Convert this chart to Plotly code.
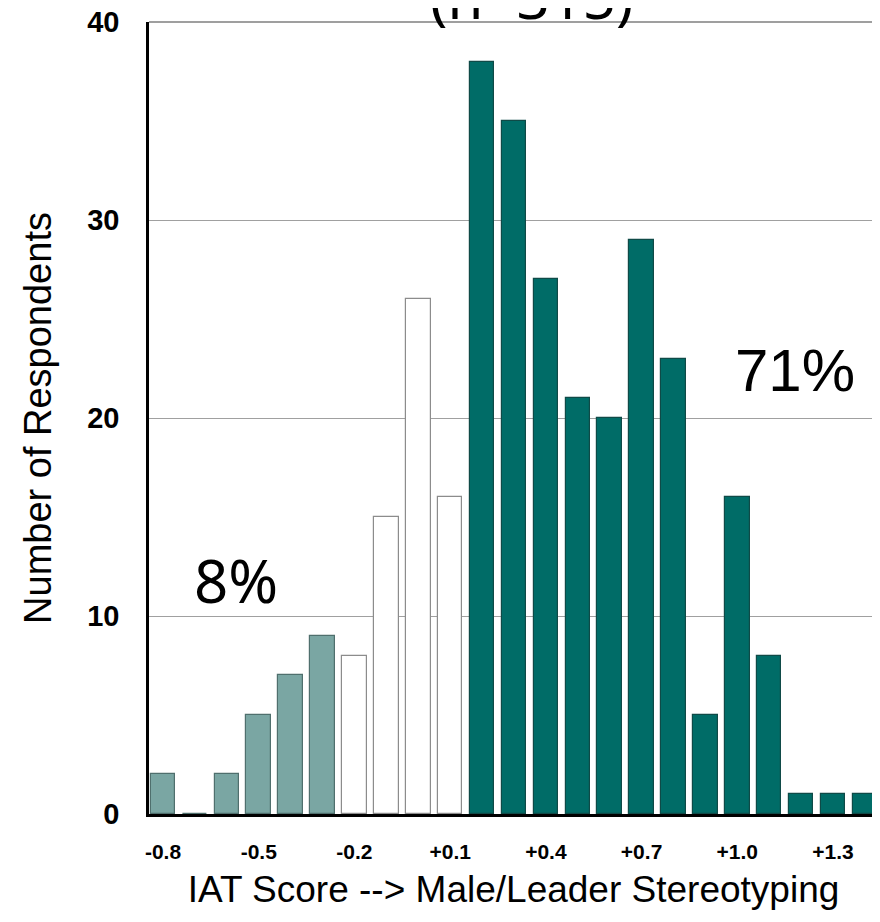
import plotly.graph_objects as go

# ---- data ----
iat_scores = [-0.8, -0.7, -0.6, -0.5, -0.4, -0.3, -0.2, -0.1, 0.0, 0.1, 0.2, 0.3,
              0.4, 0.5, 0.6, 0.7, 0.8, 0.9, 1.0, 1.1, 1.2, 1.3, 1.4]
respondents = [2, 0, 2, 5, 7, 9, 8, 15, 26, 16, 38, 35,
               27, 21, 20, 29, 23, 5, 16, 8, 1, 1, 1]
groups = ["female"] * 6 + ["neutral"] * 4 + ["male"] * 13
tick_values = [-0.8, -0.5, -0.2, 0.1, 0.4, 0.7, 1.0, 1.3]
tick_labels = ["-0.8", "-0.5", "-0.2", "+0.1", "+0.4", "+0.7", "+1.0", "+1.3"]
y_ticks = [0, 10, 20, 30, 40]

fill = {"female": "#7AA6A3", "neutral": "#FFFFFF", "male": "#006C67"}
edge = {"female": "#4F6F6D", "neutral": "#8C8C8C", "male": "#0F4A47"}

fig = go.Figure(go.Bar(
    x=iat_scores, y=respondents, width=0.077,
    marker=dict(color=[fill[g] for g in groups],
                line=dict(color=[edge[g] for g in groups], width=1.2)),
    showlegend=False,
))

# page has an 8px body margin; figure coords = page coords - 8
W, H = 872, 914
L, R, T, B = 141, 870, 14, 806
fig.update_layout(
    width=W, height=H,
    margin=dict(l=L, r=W - R, t=T, b=H - B),
    plot_bgcolor="white", paper_bgcolor="white",
    font=dict(family="Liberation Sans, Arial, sans-serif", color="black"),
    bargap=0,
)
fig.update_xaxes(
    range=[-0.844, 1.441], tickvals=tick_values, ticktext=tick_labels,
    tickfont=dict(size=21, family="Liberation Sans, Arial", weight="bold"),
    showgrid=False, zeroline=False, showline=True, linecolor="black", linewidth=3,
    layer="below traces", ticks="", ticklabelstandoff=17, automargin=False,
    title=dict(text="IAT Score --> Male/Leader Stereotyping", font=dict(size=37), standoff=14),
)
fig.update_yaxes(
    range=[0, 40], tickvals=y_ticks, ticks="",
    tickfont=dict(size=29, family="Liberation Sans, Arial", weight="bold"),
    ticklabelstandoff=21, automargin=False, ticklabeloverflow="allow",
    showgrid=True, gridcolor="#A0A0A0", gridwidth=1.2, zeroline=False,
    showline=True, linecolor="black", linewidth=2.5,
    title=dict(text="Number of Respondents", font=dict(size=38), standoff=24),
)
# plot frame (top / right edges)
frame = dict(color="#7F7F7F", width=1.5)
fig.add_shape(type="line", xref="x domain", yref="y domain", x0=0, y0=1, x1=1, y1=1,
              line=frame, layer="above")
fig.add_shape(type="line", xref="x domain", yref="y domain", x0=1, y0=0, x1=1, y1=1,
              line=frame, layer="above")

def px(xp): return (xp - 8 - L) / (R - L)      # xp, yp in page pixels
def py(yp): return (B - (yp - 8)) / (B - T)

fig.add_annotation(text="8%", x=px(236), y=py(580), xref="paper", yref="paper",
                   xanchor="center", yanchor="middle", showarrow=False,
                   font=dict(size=60, family="Noto Sans, Open Sans"))
fig.add_annotation(text="71%", x=px(795), y=py(370), xref="paper", yref="paper",
                   xanchor="center", yanchor="middle", showarrow=False,
                   font=dict(size=60, family="Liberation Sans, Arial"))
fig.add_annotation(text="(n=315)", x=px(531), y=py(38), xref="paper", yref="paper",
                   xanchor="center", yanchor="bottom", showarrow=False,
                   font=dict(size=58, family="Noto Sans, Open Sans"))

fig.write_html("out.html")
